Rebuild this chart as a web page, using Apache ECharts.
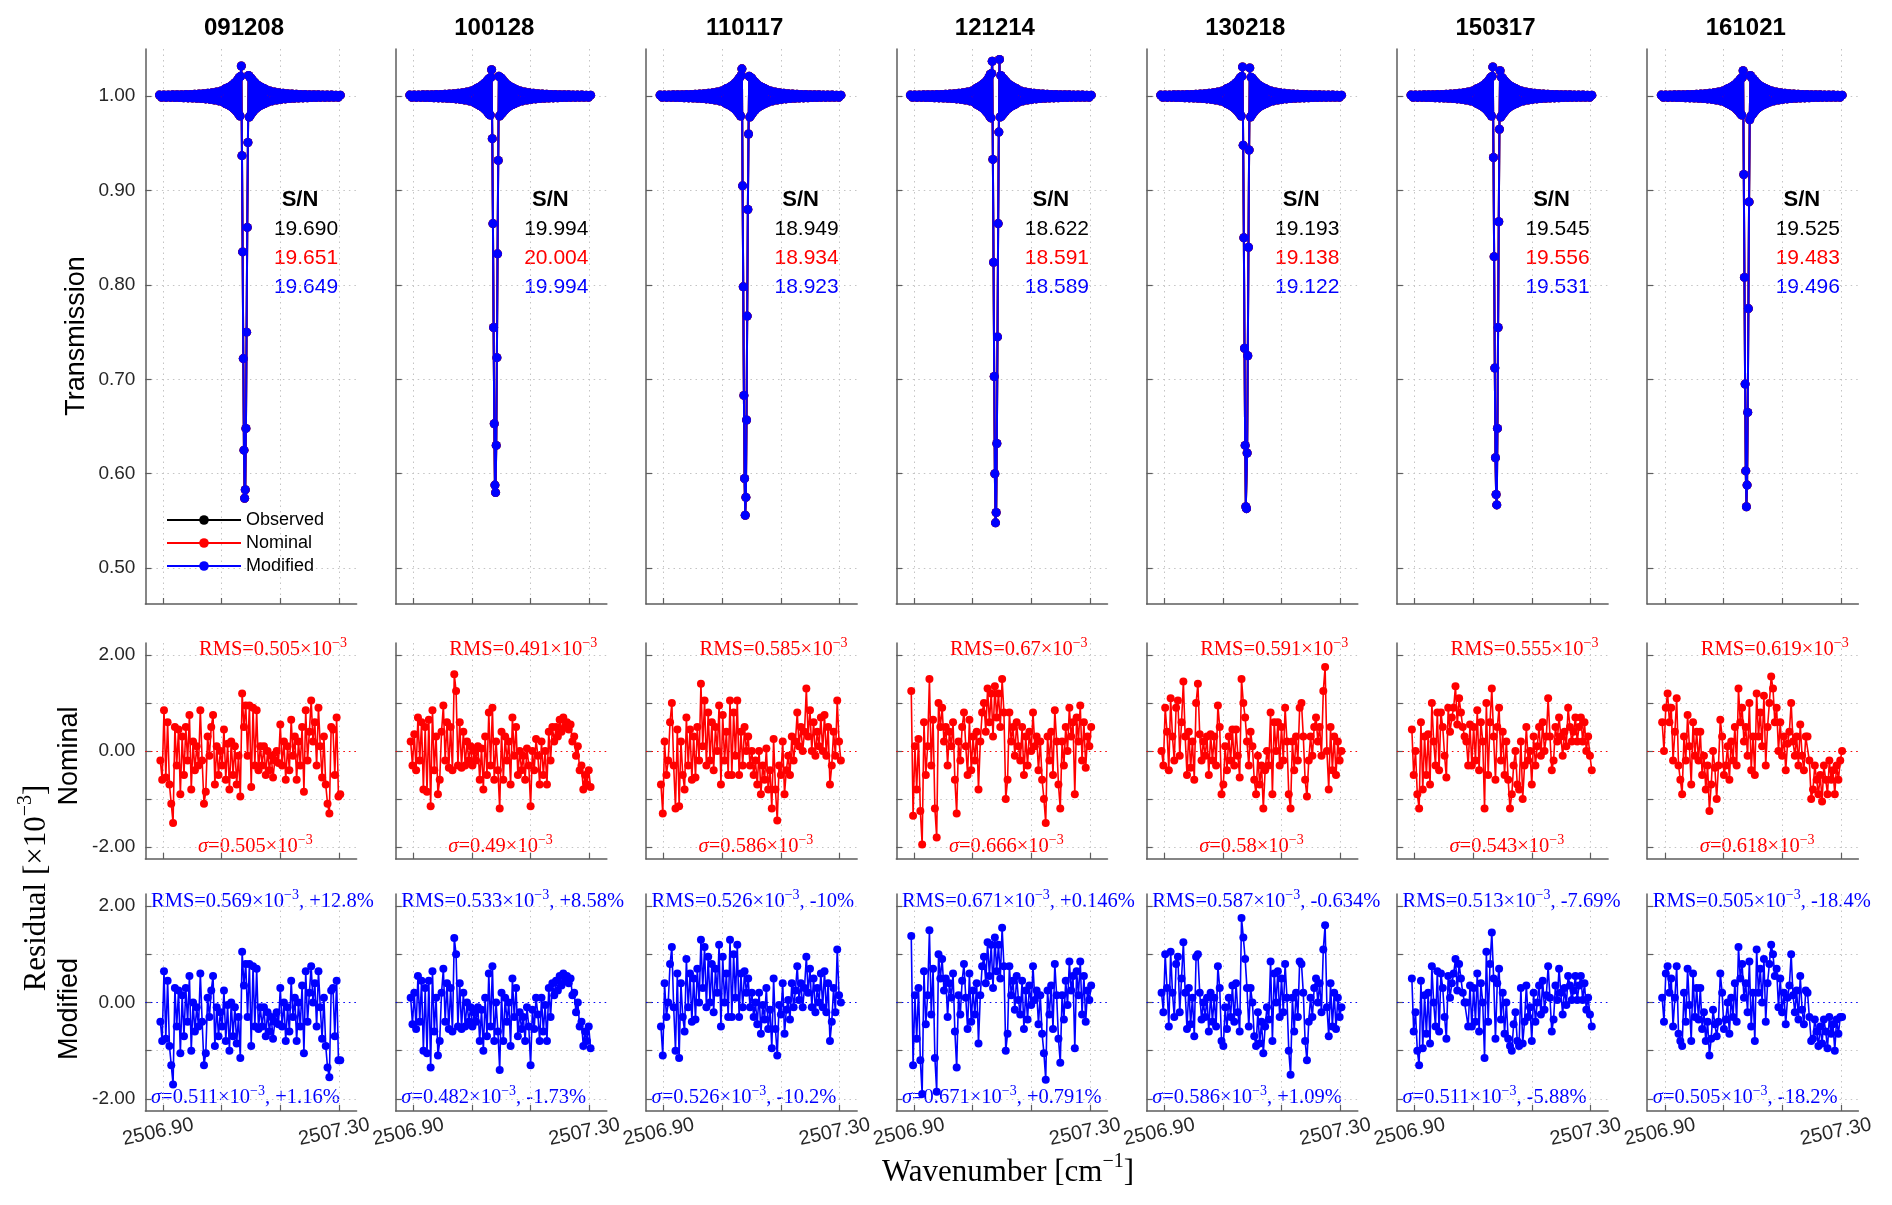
<!DOCTYPE html>
<html><head><meta charset="utf-8">
<script src="https://cdn.jsdelivr.net/npm/echarts@6/dist/echarts.min.js"></script>
<style>html,body{margin:0;padding:0;background:#fff}#c{width:1892px;height:1205px}</style>
</head><body><div id="c"></div>
<script>
// ---------------- data ----------------
const panels = ['091208','100128','110117','121214','130218','150317','161021'];
const snObserved = ['19.690','19.994','18.949','18.622','19.193','19.545','19.525'];
const snNominal  = ['19.651','20.004','18.934','18.591','19.138','19.556','19.483'];
const snModified = ['19.649','19.994','18.923','18.589','19.122','19.531','19.496'];
const rmsNominal   = ['0.505','0.491','0.585','0.67','0.591','0.555','0.619'];
const sigmaNominal = ['0.505','0.49','0.586','0.666','0.58','0.543','0.618'];
const rmsModified  = ['0.569','0.533','0.526','0.671','0.587','0.513','0.505'];
const rmsModifiedChange = ['+12.8%','+8.58%','-10%','+0.146%','-0.634%','-7.69%','-18.4%'];
const sigmaModified = ['0.511','0.482','0.526','0.671','0.586','0.511','0.505'];
const sigmaModifiedChange = ['+1.16%','-1.73%','-10.2%','+0.791%','+1.09%','-5.88%','-18.2%'];

const xTickValues = [2506.9, 2507.0333, 2507.1667, 2507.3];
const xLabelValues = [2506.9, 2507.3];
const transTickValues = [0.5, 0.6, 0.7, 0.8, 0.9, 1.0];
const residTickValues = [-2, -1, 0, 1, 2];
const residLabelValues = [-2, 0, 2];

// spectral sampling (wavenumber, cm^-1)
const transLeftStart = 2506.892, transLeftStep = 0.005;
const transMidStart = 2507.0405, transMidStep = 0.0015;
const transRightStart = 2507.138, transRightStep = 0.005;
const residStart = 2506.894, residStep = 0.00413;

// transmission deviation from 1, in units of 1e-3
const bandLeftCoarse = [1.2,-1.2,1.2,-1.3,1.3,-1.3,1.4,-1.4,1.5,-1.5,1.6,-1.6,1.7,-1.8,1.9,-2.0,2.1,-2.2,2.4,-2.5,2.7,-2.9,3.1,-3.4,3.7,-4.1,4.5,-5.0,5.6,-6.3];
const bandRightCoarse = [-6.2,5.5,-5.0,4.5,-4.1,3.7,-3.4,3.1,-2.9,2.7,-2.5,2.4,-2.2,2.1,-2.0,1.9,-1.8,1.7,-1.6,1.6,-1.5,1.5,-1.4,1.4,-1.3,1.3,-1.3,1.2,-1.2,1.2,-1.2,1.1,-1.1,1.1];
const midT091208 = [7.5,-7.8,8,-8.3,8.6,-9,9.3,-9.7,10,-10.5,11,-11.5,12,-12.5,13,-14,14.5,-15.5,16,-17,18,-19, 20,-21,21,32, -63,-165,-278,-375,-426,-417,-352,-250,-139,-49, 22,-22,20,-20,19,-18,17,-16,15.5,-14.5,14,-13,12.5,-12,11.5,-11,10.5,-10,9.7,-9.3,9,-8.6,8.3,-8,7.8,-7.5,7.2];
const midT100128 = [7.2,-7.6,8,-8.2,8.7,-9.1,9.2,-9.8,10.2,-10.4,11,-11.6,12.2,-12.4,13.2,-13.8,14.6,-15.2,16.2,-16.8,18,-19, 19,-20,20,28, -45,-135,-245,-347,-412,-420,-370,-277,-167,-68, 21,-21,20,-19.5,19,-18,17.2,-16,15.4,-14.6,14,-13.2,12.4,-12,11.6,-11,10.4,-10,9.8,-9.2,9.1,-8.7,8.2,-8,7.7,-7.4,7.2];
const midT110117 = [7.4,-7.8,8.1,-8.3,8.5,-9.1,9.3,-9.6,10.1,-10.5,11.1,-11.4,12,-12.6,13.1,-13.9,14.5,-15.4,16.1,-17,18.2,-19, 20,-21,22,29, -95,-202,-317,-405,-444,-425,-343,-233,-120,-40, 21,-22,20,-20,19,-18.2,17,-16.1,15.4,-14.6,14,-13.1,12.6,-12,11.4,-11.1,10.5,-10.1,9.6,-9.3,9.1,-8.5,8.3,-8.1,7.8,-7.4,7.2];
const midT121214 = [8,-8.4,8.8,-9.1,9.5,-9.9,10.2,-10.7,11,-11.6,12.1,-12.7,13.2,-13.8,14.3,-15.4,16,-17,17.6,-18.7,19.8,-21, 23,-23,24,37, -67,-176,-297,-400,-452,-441,-368,-255,-135,-38, 39,-22,22,-21,20,-19.5,18.5,-17.5,17,-16,15.4,-14.3,13.8,-13.2,12.7,-12.1,11.6,-11,10.7,-10.2,9.9,-9.5,9.1,-8.8,8.4,-8.1,7.9];
const midT130218 = [7.5,-7.7,8.1,-8.3,8.6,-9,9.4,-9.7,10,-10.6,11,-11.5,12.1,-12.5,13,-14.1,14.5,-15.5,16,-17.1,18,-19, 20,-21,21,31, -52,-150,-267,-370,-435,-437,-378,-275,-160,-57, 30,-22,20,-20,19,-18,17,-16,15.5,-14.5,14,-13,12.5,-12,11.5,-11,10.5,-10,9.7,-9.3,9,-8.6,8.3,-8,7.8,-7.5,7.2];
const midT150317 = [7.6,-7.8,8,-8.4,8.6,-9,9.3,-9.8,10,-10.5,11.1,-11.5,12,-12.5,13,-14,14.6,-15.5,16,-17,18.1,-19, 20,-21,21,31, -65,-170,-288,-383,-422,-433,-352,-245,-133,-35, 27,-22,20,-20,19.2,-18,17,-16.2,15.5,-14.5,14,-13.1,12.5,-12,11.5,-11,10.6,-10,9.7,-9.4,9,-8.6,8.3,-8,7.8,-7.5,7.2];
const midT161021 = [7.3,-7.6,7.9,-8.2,8.5,-8.9,9.2,-9.6,9.9,-10.4,10.8,-11.3,11.8,-12.3,12.8,-13.7,14.2,-15.1,15.7,-16.6,17.6,-18.6, 19,-20,20,27, -83,-192,-305,-397,-435,-412,-335,-225,-112,-25, 22,-21,19.6,-19.5,18.6,-17.6,16.7,-15.7,15.1,-14.2,13.7,-12.8,12.3,-11.8,11.3,-10.8,10.4,-9.9,9.6,-9.2,8.9,-8.5,8.2,-7.9,7.6,-7.4,7.1];

// residuals, units of 1e-3
const resNom091208 = [-0.2,-0.6,0.85,-0.55,0.6,-0.7,-1.1,-1.5,0.5,-0.3, 0.45,-0.9,0.3,-0.5,0.5,-0.2,0.75,-0.8,0.2,-0.4, 0.1,-0.3,0.85,-0.2,-1.1,-0.85,0.3,-0.1,0.5,0.75, -0.7,0.1,-0.5,0.0,-0.3,0.45,-0.6,0.15,-0.8,0.2, -0.5,0.1,-0.7,-0.1,-0.95,1.2,0.5,0.95,-0.1,0.95, -0.75,0.9,-0.3,0.85,-0.4,0.1,-0.3,0.1,-0.5,0.0, -0.4,-0.1,-0.55,-0.2,0.0,-0.25,0.55,-0.3,0.2,-0.6, 0.1,-0.4,0.65,-0.1,0.3,-0.6,0.2,-0.3,0.5,-0.85, 0.85,-0.2,0.4,1.05,0.2,0.6,-0.3,0.9,0.1,-0.55, 0.3,-0.7,-1.1,-1.3,0.5,0.45,-0.5,0.7,-0.95,-0.9];
const resMod091208 = [-0.4,-0.8,0.65,-0.75,0.45,-0.9,-1.3,-1.7,0.3,-0.5, 0.25,-1.05,0.15,-0.7,0.3,-0.4,0.55,-1.0,0.0,-0.6, -0.1,-0.5,0.6,-0.4,-1.3,-1.05,0.1,-0.3,0.25,0.55, -0.9,-0.1,-0.7,-0.2,-0.5,0.25,-0.8,-0.05,-1.0,0.0, -0.7,-0.1,-0.85,-0.3,-1.15,1.05,0.35,0.8,-0.3,0.8, -0.9,0.75,-0.5,0.7,-0.55,-0.1,-0.5,-0.1,-0.7,-0.2, -0.6,-0.3,-0.75,-0.4,-0.2,-0.45,0.3,-0.5,0.0,-0.8, -0.1,-0.6,0.45,-0.3,0.1,-0.8,0.0,-0.5,0.35,-1.05, 0.65,-0.4,0.2,0.75,0.0,0.4,-0.5,0.65,-0.1,-0.75, 0.1,-0.9,-1.35,-1.55,0.25,0.3,-0.7,0.45,-1.2,-1.2];
const resNom100128 = [0.2,-0.3,0.35,-0.4,0.7,-0.2,0.6,-0.8,0.5,-0.85, 0.65,-1.15,0.85,-0.4,0.3,-0.9,-0.6,0.4,0.95,-0.2, 0.6,-0.35,0.5,-0.4,1.6,1.25,-0.3,0.6,-0.35,0.4, -0.3,0.2,-0.2,0.1,-0.3,0.0,-0.2,0.1,-0.6,0.05, -0.8,0.3,-0.5,0.8,-0.3,0.9,-0.6,0.2,-0.4,-1.2, 0.4,-0.6,0.3,-0.2,0.2,-0.7,0.7,-0.1,0.5,-0.5, 0.0,-0.4,-0.1,-0.6,0.05,-0.3,-1.15,0.0,-0.4,0.25, -0.1,-0.7,0.2,-0.5,0.0,-0.7,0.4,-0.2,0.5,0.2, 0.5,0.3,0.65,0.4,0.7,0.5,0.6,0.45,0.55,0.2, 0.3,-0.1,0.1,-0.4,-0.3,-0.8,-0.5,-0.7,-0.4,-0.75];
const resMod100128 = [0.1,-0.45,0.2,-0.55,0.55,-0.4,0.45,-1.0,0.3,-1.05, 0.45,-1.35,0.65,-0.6,0.1,-1.1,-0.8,0.2,0.7,-0.4, 0.4,-0.55,0.3,-0.6,1.34,1.0,-0.5,0.4,-0.55,0.2, -0.5,0.0,-0.4,-0.1,-0.5,-0.2,-0.4,-0.1,-0.8,-0.15, -1.0,0.1,-0.7,0.6,-0.5,0.75,-0.8,0.0,-0.6,-1.4, 0.2,-0.8,0.1,-0.4,0.0,-0.9,0.5,-0.3,0.3,-0.7, -0.2,-0.55,-0.3,-0.8,-0.1,-0.5,-1.3,-0.15,-0.55,0.1, -0.25,-0.8,0.1,-0.6,-0.05,-0.8,0.3,-0.3,0.4,0.15, 0.45,0.25,0.55,0.35,0.6,0.45,0.55,0.4,0.5,0.15, 0.2,-0.2,0.0,-0.5,-0.4,-0.9,-0.6,-0.8,-0.5,-0.95];
const resNom110117 = [-0.7,-1.3,0.2,-0.5,-0.2,0.6,1.0,-0.3,-1.2,0.45, -1.15,0.2,-0.5,-0.8,0.7,-0.3,0.45,-0.6,0.3,-0.55, 0.5,-0.2,1.4,0.1,1.05,-0.3,0.8,-0.2,0.6,-0.4, 0.5,0.0,0.95,-0.7,0.75,-0.2,0.4,-0.5,1.05,-0.5, 0.8,-0.1,1.05,-0.5,0.4,-0.3,0.5,0.0,0.3,-0.3, 0.0,-0.5,-0.2,-0.7,0.0,-0.9,-0.3,-0.6,0.05,-0.8, -0.4,-1.2,0.25,-0.8,-1.45,-0.3,-0.5,0.2,-0.9,-0.4, -0.1,-0.5,0.3,-0.2,0.2,0.8,0.1,0.5,0.0,0.4, 1.3,0.3,0.85,0.0,0.6,-0.1,0.4,0.1,0.7,0.0, 0.75,-0.1,0.5,-0.7,-0.3,0.4,-0.1,1.05,0.2,-0.2];
const resMod110117 = [-0.5,-1.1,0.4,-0.3,0.0,0.8,1.15,-0.1,-1.0,0.6, -1.15,0.4,-0.3,-0.6,0.9,-0.1,0.6,-0.4,0.5,-0.35, 0.7,0.0,1.3,0.3,1.15,-0.1,0.95,0.0,0.8,-0.2, 0.7,0.2,1.2,-0.5,0.95,0.0,0.6,-0.3,1.3,-0.3, 1.0,0.1,1.2,-0.3,0.6,-0.1,0.65,0.2,0.5,-0.1, 0.2,-0.3,0.0,-0.45,0.2,-0.65,-0.05,-0.35,0.3,-0.55, -0.15,-0.95,0.5,-0.55,-1.1,-0.05,-0.25,0.4,-0.65,-0.15, 0.05,-0.35,0.4,-0.1,0.25,0.75,0.05,0.4,-0.1,0.3, 0.95,0.2,0.7,-0.1,0.5,-0.2,0.3,0.0,0.6,-0.1, 0.65,-0.2,0.4,-0.8,-0.4,0.3,-0.2,1.1,0.15,0.0];
const resNom121214 = [1.25,-1.35,0.1,-0.8,0.25,-1.25,-1.95,0.6,-0.5,0.1, 1.5,-0.3,0.65,-1.2,-1.8,1.0,0.5,0.9,0.2,0.5, -0.3,0.4,0.1,0.6,-0.6,-1.3,0.2,-0.2,0.5,0.8, 0.1,-0.5,0.65,-0.4,0.3,-0.2,0.4,-0.8,0.2,0.8, 1.0,0.4,1.3,0.6,1.2,0.3,1.35,0.7,1.2,0.5, 1.5,0.8,-1.0,-0.6,0.8,0.2,0.5,-0.1,0.6,0.1, -0.2,0.5,-0.5,0.3,-0.3,0.4,0.0,0.8,0.1,0.3, -0.4,0.2,-0.6,-1.0,-1.5,0.3,-0.2,0.4,-0.5,0.85, 0.2,-0.7,-1.2,0.2,-0.3,0.5,0.0,0.9,0.3,0.6, -0.9,0.7,0.2,0.95,-0.2,0.6,-0.35,0.3,0.1,0.5];
const resMod121214 = [1.38,-1.3,0.15,-0.75,0.3,-1.2,-1.9,0.65,-0.45,0.15, 1.5,-0.25,0.7,-1.15,-1.85,1.0,0.5,0.9,0.25,0.5, -0.3,0.4,0.1,0.6,-0.6,-1.35,0.15,-0.25,0.45,0.8, 0.1,-0.55,0.6,-0.4,0.25,-0.25,0.4,-0.85,0.15,0.75, 0.95,0.4,1.25,0.55,1.2,0.3,1.35,0.65,1.2,0.5, 1.55,0.75,-1.0,-0.65,0.75,0.15,0.45,-0.15,0.55,0.05, -0.25,0.45,-0.55,0.25,-0.35,0.35,-0.05,0.75,0.05,0.25, -0.45,0.15,-0.65,-1.05,-1.6,0.25,-0.25,0.35,-0.55,0.8, 0.15,-0.75,-1.25,0.15,-0.35,0.45,-0.05,0.85,0.25,0.55, -0.95,0.65,0.15,0.85,-0.25,0.55,-0.4,0.25,0.05,0.35];
const resNom130218 = [0.0,-0.3,0.9,0.4,-0.4,1.1,0.3,-0.2,0.9,1.05, -0.1,0.6,1.45,0.3,-0.5,0.4,-0.35,0.2,-0.6,1.0, 1.4,0.35,-0.2,0.2,-0.1,0.3,-0.5,0.35,-0.2,0.3, -0.3,0.95,0.5,-0.9,-0.7,0.1,-0.4,0.3,-0.2,0.45, -0.3,0.45,-0.1,-0.55,1.5,1.0,0.7,0.2,-0.3,0.4, 0.1,-0.6,-0.9,-0.1,-0.7,-0.3,-1.2,-0.4,0.0,-0.3, 0.8,-0.9,0.6,0.0,0.6,-0.3,0.5,-0.2,0.9,0.2, -0.9,-1.2,0.2,-0.4,0.3,-0.2,0.9,1.0,0.3,-0.6, -0.95,-0.2,0.3,-0.1,0.5,0.7,0.2,0.5,-0.1,1.25, 1.75,0.0,-0.8,0.5,-0.4,0.3,-0.5,0.2,-0.2,0.0];
const resMod130218 = [0.2,-0.2,1.0,0.3,-0.5,1.05,0.2,-0.3,0.8,0.95, -0.2,0.5,1.25,0.2,-0.55,0.3,-0.45,0.1,-0.7,0.95, 1.0,0.2,-0.35,0.0,-0.3,0.1,-0.6,0.2,-0.4,0.1, -0.5,0.75,0.3,-0.8,-0.9,-0.1,-0.55,0.1,-0.3,0.35, -0.4,0.4,-0.2,-0.6,1.75,1.35,0.9,0.3,-0.5,0.3, 0.0,-0.7,-0.9,-0.2,-0.85,-0.4,-1.05,-0.5,-0.1,-0.35, 0.85,-0.8,0.6,0.0,0.65,-0.3,0.5,-0.2,0.8,0.1, -1.0,-1.5,0.1,-0.6,0.2,-0.3,0.85,0.8,0.2,-0.8, -1.2,-0.4,0.1,-0.3,0.3,0.5,0.0,0.4,-0.2,1.1, 1.6,-0.1,-0.7,0.4,-0.5,0.2,-0.55,0.1,-0.3,-0.1];
const resNom150317 = [0.45,-0.5,0.0,-0.9,-1.2,0.6,-0.8,0.3,-0.5,0.35, -0.7,1.0,0.2,-0.3,0.8,-0.4,0.8,0.5,-0.1,-0.55, 0.9,0.4,0.7,0.9,1.35,0.55,1.1,0.8,0.5,0.3, 0.2,-0.3,0.55,-0.3,0.5,-0.2,0.85,-0.4,0.6,0.2, -1.2,1.0,-0.5,0.6,1.3,0.3,-0.6,0.5,0.9,-0.2, 0.4,-0.5,0.2,-0.6,-1.2,-0.9,-0.3,0.0,-0.7,-0.8, 0.2,-1.0,-0.3,0.5,-0.2,0.0,-0.7,0.3,-0.3,0.1, 0.5,-0.1,0.6,0.0,0.3,1.1,0.3,-0.4,-0.2,0.5, 0.2,0.7,0.3,-0.1,0.4,0.1,0.9,0.5,0.2,0.4, 0.7,0.2,0.5,0.7,0.2,0.6,0.0,0.3,-0.1,-0.4];
const resMod150317 = [0.5,-0.6,-0.2,-1.0,-1.3,0.45,-0.95,0.15,-0.65,0.2, -0.85,0.75,0.0,-0.5,0.65,-0.6,0.6,0.3,-0.3,-0.75, 0.55,0.1,0.4,0.6,0.9,0.25,0.8,0.5,0.2,0.0, 0.0,-0.5,0.35,-0.5,0.3,-0.4,0.6,-0.6,0.4,0.0, -1.15,1.05,-0.4,0.8,1.45,0.5,-0.75,0.4,0.7,-0.35, 0.2,-0.65,0.0,-0.75,-0.9,-1.0,-0.45,-0.2,-0.8,-0.9, 0.3,-0.85,-0.4,0.35,-0.3,-0.1,-0.8,0.2,-0.4,0.0, 0.35,-0.25,0.45,-0.15,0.15,0.75,0.1,-0.6,-0.35,0.35, 0.05,0.7,0.2,-0.25,0.3,-0.05,0.55,0.35,0.05,0.25, 0.55,0.05,0.35,0.55,0.05,0.4,-0.15,0.1,-0.25,-0.5];
const resNom161021 = [0.6,0.0,0.9,1.2,0.6,0.9,-0.2,0.4,1.1,-0.3, -0.6,-0.9,0.3,-0.2,0.75,0.1,-0.7,0.6,-0.1,0.4, -0.2,0.4,-0.5,-0.1,-0.8,-0.3,-1.25,-0.7,0.0,-0.35, -1.0,-0.3,0.65,0.3,-0.5,-0.3,0.1,-0.6,0.2,-0.2, 0.5,-0.3,1.3,0.6,0.9,0.2,0.5,-0.1,1.0,-0.4, 0.3,-0.5,1.2,0.3,0.8,0.1,1.15,-0.3,0.5,1.0, 1.55,1.3,0.6,0.9,0.0,0.6,-0.1,0.3,-0.4,0.15, 0.4,1.0,0.2,-0.1,0.3,-0.3,0.55,-0.1,-0.4,0.3, 0.3,-0.2,-1.0,-0.8,-0.3,-0.6,-0.9,-0.5,-1.05,-0.3, -0.6,-0.9,-0.2,-0.6,-0.4,-0.9,-0.3,-0.6,-0.2,0.0];
const resMod161021 = [0.1,-0.4,0.6,0.75,0.2,0.5,-0.5,0.1,0.75,-0.65, -0.8,-0.9,0.2,-0.4,0.7,-0.05,-0.8,0.6,-0.3,0.3, -0.35,0.3,-0.55,-0.2,-0.8,-0.4,-1.1,-0.75,-0.15,-0.45, -0.7,-0.4,0.6,0.2,-0.55,-0.35,0.0,-0.65,0.1,-0.3, 0.4,-0.4,1.15,0.5,0.8,0.1,0.4,-0.2,0.85,-0.5, 0.2,-0.8,1.1,0.2,0.7,0.0,0.9,-0.4,0.4,0.8, 1.2,1.0,0.55,0.7,-0.1,0.5,-0.2,0.2,-0.45,0.1, 0.35,1.0,0.15,-0.2,0.25,-0.35,0.55,-0.15,-0.45,0.25, 0.2,-0.3,-0.8,-0.75,-0.35,-0.6,-0.9,-0.5,-0.85,-0.35, -0.6,-0.95,-0.3,-0.65,-0.45,-1.0,-0.35,-0.65,-0.3,-0.3];

const midTList = [midT091208, midT100128, midT110117, midT121214, midT130218, midT150317, midT161021];
const resNomList = [resNom091208, resNom100128, resNom110117, resNom121214, resNom130218, resNom150317, resNom161021];
const resModList = [resMod091208, resMod100128, resMod110117, resMod121214, resMod130218, resMod150317, resMod161021];

// ---------------- layout / style ----------------
const SANS = '"Liberation Sans", Arial, sans-serif';
const SERIF = '"Liberation Serif", "Times New Roman", serif';
const RED = '#ff0000', BLUE = '#0000ff', BLACK = '#000000';
const axisColor = '#5e5e5e', gridColor = '#c4c4c4', labelColor = '#262626';
const colTick0 = i => 163 + 250.3 * i;   // pixel of first x tick
const gridW = 211.2;
const rows = [
  {top: 49, height: 555, min: 0.462, max: 1.05},
  {top: 643, height: 216, min: -2.25, max: 2.25},
  {top: 894, height: 217, min: -2.25, max: 2.25}
];
const NP = panels.length;
const grids = new Array(3 * NP), xAxes = new Array(3 * NP), yAxes = new Array(3 * NP);
const series = [], graphics = [];
const gridLine = {show: true, lineStyle: {type: [1.5, 4], color: gridColor, width: 1}};

function xAxisCfg(gi, showLabels) {
  return {
    gridIndex: gi, type: 'value', min: 2506.86, max: 2507.34,
    axisLine: {show: true, onZero: false, lineStyle: {color: axisColor, width: 1.5}},
    axisTick: {show: true, inside: true, length: 6, customValues: xTickValues, lineStyle: {color: axisColor, width: 1.2}},
    axisLabel: {show: showLabels, customValues: xLabelValues, rotate: 12, align: 'center', verticalAlign: 'middle',
      margin: 20, padding: [0, 10, 0, 0], fontSize: 20, fontFamily: SANS, color: labelColor, formatter: v => v.toFixed(2)},
    splitLine: gridLine
  };
}
function yAxisCfg(gi, r, ticks, labels, showLabels) {
  return {
    gridIndex: gi, type: 'value', min: r.min, max: r.max,
    axisLine: {show: true, onZero: false, lineStyle: {color: axisColor, width: 1.5}},
    axisTick: {show: true, inside: true, length: 6, customValues: ticks, lineStyle: {color: axisColor, width: 1.2}},
    axisLabel: {show: showLabels, customValues: labels, margin: 10, fontSize: 19, fontFamily: SANS, color: labelColor,
      formatter: v => v.toFixed(2)},
    splitLine: gridLine
  };
}

function transData(mid) {
  const out = [];
  bandLeftCoarse.forEach((v, k) => out.push([transLeftStart + transLeftStep * k, 1 + v / 1000]));
  mid.forEach((v, k) => out.push([transMidStart + transMidStep * k, 1 + v / 1000]));
  bandRightCoarse.forEach((v, k) => out.push([transRightStart + transRightStep * k, 1 + v / 1000]));
  return out;
}
function residData(arr) {
  return arr.map((v, k) => [residStart + residStep * k, v]);
}

function sup(color, size) {
  return {
    a: {fontFamily: SERIF, fontSize: size, fill: color},
    i: {fontFamily: SERIF, fontSize: size, fontStyle: 'italic', fill: color},
    s: {fontFamily: SERIF, fontSize: Math.round(size * 0.66), fill: color, padding: [0, 0, Math.round(size * 0.7), 0]}
  };
}
function addText(x, y, text, opts) {
  graphics.push(Object.assign({type: 'text', x: x, y: y, silent: true,
    style: Object.assign({text: text, align: 'center', verticalAlign: 'middle'}, opts.style)}, opts.el || {}));
}
const ANN = 20.5;

panels.forEach((p, i) => {
  const t0 = colTick0(i);
  const left = t0 - 17.6;
  rows.forEach((r, ri) => {
    const gi = ri * NP + i;
    grids[gi] = {left: left, top: r.top, width: gridW, height: r.height, containLabel: false};
    xAxes[gi] = xAxisCfg(gi, ri === 2);
    if (ri === 0) yAxes[gi] = yAxisCfg(gi, r, transTickValues, transTickValues, i === 0);
    else yAxes[gi] = yAxisCfg(gi, r, residTickValues, residLabelValues, i === 0);
  });

  const td = transData(midTList[i]);
  [['Observed', BLACK], ['Nominal', RED], ['Modified', BLUE]].forEach(([nm, c], k) => {
    series.push({type: 'line', name: nm, xAxisIndex: i, yAxisIndex: i, data: td,
      symbol: 'circle', symbolSize: 9, color: c, lineStyle: {color: c, width: 2}, itemStyle: {color: c},
      z: 2 + k, animation: false, silent: true});
  });
  series.push({type: 'line', name: 'Nominal residual', xAxisIndex: NP + i, yAxisIndex: NP + i, data: residData(resNomList[i]),
    symbol: 'circle', symbolSize: 8, color: RED, lineStyle: {color: RED, width: 1.6}, itemStyle: {color: RED},
    animation: false, silent: true, z: 3,
    markLine: {silent: true, symbol: 'none', label: {show: false}, animation: false,
      lineStyle: {type: [1.5, 4], color: RED, width: 1}, data: [{yAxis: 0}]}});
  series.push({type: 'line', name: 'Modified residual', xAxisIndex: 2 * NP + i, yAxisIndex: 2 * NP + i, data: residData(resModList[i]),
    symbol: 'circle', symbolSize: 8, color: BLUE, lineStyle: {color: BLUE, width: 1.6}, itemStyle: {color: BLUE},
    animation: false, silent: true, z: 3,
    markLine: {silent: true, symbol: 'none', label: {show: false}, animation: false,
      lineStyle: {type: [1.5, 4], color: BLUE, width: 1}, data: [{yAxis: 0}]}});

  // title
  addText(t0 + 81, 28, p, {style: {fill: BLACK, font: 'bold 24px ' + SANS}});
  // S/N block
  addText(t0 + 137, 200, 'S/N', {style: {fill: BLACK, font: 'bold 22px ' + SANS}});
  addText(t0 + 143, 229, snObserved[i], {style: {fill: BLACK, font: '21px ' + SANS}});
  addText(t0 + 143, 258, snNominal[i], {style: {fill: RED, font: '21px ' + SANS}});
  addText(t0 + 143, 287, snModified[i], {style: {fill: BLUE, font: '21px ' + SANS}});
  // residual annotations
  addText(t0 + 36, 650, '{a|RMS=' + rmsNominal[i] + '×10}{s|−3}',
    {style: {align: 'left', rich: sup(RED, ANN), fill: RED, fontFamily: SERIF, fontSize: ANN}});
  addText(t0 + 35, 847, '{i|σ}{a|=' + sigmaNominal[i] + '×10}{s|−3}',
    {style: {align: 'left', rich: sup(RED, ANN), fill: RED, fontFamily: SERIF, fontSize: ANN}});
  addText(t0 - 12, 902, '{a|RMS=' + rmsModified[i] + '×10}{s|−3}{a|, ' + rmsModifiedChange[i] + '}',
    {style: {align: 'left', rich: sup(BLUE, ANN), fill: BLUE, fontFamily: SERIF, fontSize: ANN}});
  addText(t0 - 12, 1098, '{i|σ}{a|=' + sigmaModified[i] + '×10}{s|−3}{a|, ' + sigmaModifiedChange[i] + '}',
    {style: {align: 'left', rich: sup(BLUE, ANN), fill: BLUE, fontFamily: SERIF, fontSize: ANN}});
});

// axis titles
addText(77, 336, 'Transmission', {style: {fill: BLACK, font: '27px ' + SANS}, el: {rotation: Math.PI / 2}});
addText(70, 756, 'Nominal', {style: {fill: BLACK, font: '27px ' + SANS}, el: {rotation: Math.PI / 2}});
addText(70, 1009, 'Modified', {style: {fill: BLACK, font: '27px ' + SANS}, el: {rotation: Math.PI / 2}});
addText(37, 888, '{a|Residual [×10}{s|−3}{a|]}', {style: {rich: sup(BLACK, 31), fill: BLACK, fontFamily: SERIF, fontSize: 31}, el: {rotation: Math.PI / 2}});
addText(1008, 1173, '{a|Wavenumber [cm}{s|−1}{a|]}', {style: {rich: sup(BLACK, 31), fill: BLACK, fontFamily: SERIF, fontSize: 31}});

const chart = echarts.init(document.getElementById('c'), null, {renderer: 'canvas', width: 1892, height: 1205});
chart.setOption({
  backgroundColor: '#ffffff',
  animation: false,
  grid: grids, xAxis: xAxes, yAxis: yAxes, series: series,
  legend: {data: ['Observed', 'Nominal', 'Modified'], orient: 'vertical', left: 161, top: 506,
    itemWidth: 74, itemHeight: 12, itemGap: 5, selectedMode: false,
    textStyle: {fontSize: 18, fontFamily: SANS, color: BLACK}},
  graphic: {elements: graphics}
});
</script></body></html>
